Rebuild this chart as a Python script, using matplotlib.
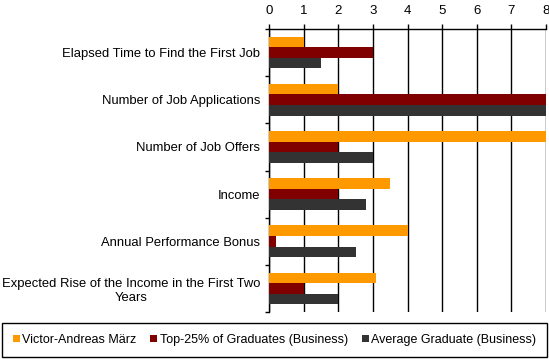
import matplotlib
matplotlib.use("Agg")
import matplotlib.pyplot as plt
import numpy as np

plt.rcParams['font.family'] = ['Liberation Sans', 'DejaVu Sans']

categories = [
    "Elapsed Time to Find the First Job",
    "Number of Job Applications",
    "Number of Job Offers",
    "Income",
    "Annual Performance Bonus",
    "Expected Rise of the Income in the First Two\nYears",
]
series_names = ["Victor-Andreas März", "Top-25% of Graduates (Business)", "Average Graduate (Business)"]
victor = [1, 2, 8, 3.5, 4, 3.1]
top25 = [3, 8, 2, 2, 0.2, 1]
average = [1.5, 8, 3, 2.8, 2.5, 2]
x_ticks = [0, 1, 2, 3, 4, 5, 6, 7, 8]

colors = ["#FF9900", "#800000", "#333333"]

fig = plt.figure(figsize=(5.49, 3.59), dpi=100)
ax = fig.add_axes([269/549, 1 - 312/359, (546 - 269)/549, (312 - 29)/359])

n = len(categories)
y = np.arange(n)
h = 0.224
for i, (vals, name, c) in enumerate(zip([victor, top25, average], series_names, colors)):
    ax.barh(y + (i - 1) * h, vals, height=h, color=c, label=name, zorder=3)

ax.set_xlim(0, 8)
ax.set_ylim(n - 0.5, -0.5)
ax.xaxis.tick_top()
ax.set_xticks(x_ticks)
ax.tick_params(axis='x', length=3.6, width=1, color='black', labelsize=9.5, pad=5)
ax.grid(axis='x', color='black', linewidth=1, zorder=1)

ax.set_yticks(np.arange(n + 1) - 0.5)
ax.set_yticklabels([])
ax.set_yticks(y, minor=True)
ax.set_yticklabels(categories, minor=True, multialignment='center', fontsize=9.4)
ax.tick_params(axis='y', which='major', length=3, width=1, color='black')
ax.tick_params(axis='y', which='minor', length=0, pad=6.5)

for s in ['right', 'bottom']:
    ax.spines[s].set_visible(False)
for s in ['left', 'top']:
    ax.spines[s].set_color('black')
    ax.spines[s].set_linewidth(1)

leg = fig.legend(loc='lower center', bbox_to_anchor=(0.5, 0.005), ncol=3, fontsize=9,
                 frameon=True, fancybox=False, edgecolor='black', framealpha=1,
                 handlelength=0.55, handleheight=0.55, handletextpad=0.2, columnspacing=1.1,
                 borderpad=0.9, borderaxespad=0)
leg.get_frame().set_linewidth(1)

fig.savefig("out.png", dpi=100)
